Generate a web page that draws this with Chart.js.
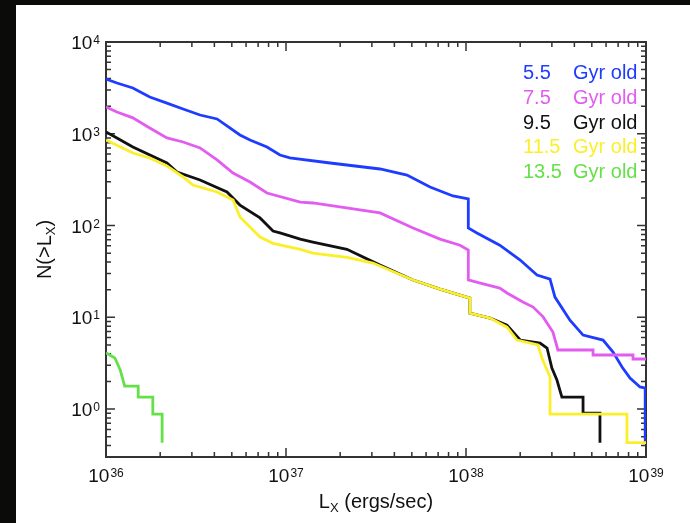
<!DOCTYPE html>
<html>
<head>
<meta charset="utf-8">
<script src="https://cdn.jsdelivr.net/npm/chart.js@4"></script>
<style>
  html, body { margin: 0; padding: 0; background: #0b0c09; }
  #panel { position: absolute; left: 16px; top: 5px; width: 674px; height: 518px; background: #fff; }
</style>
</head>
<body>
<div id="panel"><canvas id="xlfChart" width="674" height="518"></canvas></div>
<script>
// cumulative X-ray luminosity functions, N(>Lx) vs Lx, one per population age
const ages = ['5.5', '7.5', '9.5', '11.5', '13.5'];

const lum55 = [1.0e36, 1.15e36, 1.41e36, 1.75e36, 2.18e36, 2.68e36, 3.33e36, 4.14e36, 5.55e36, 6.31e36, 7.84e36, 9.26e36, 1.05e37, 1.76e37, 3.33e37, 4.70e37, 6.31e37, 8.47e37, 1.03e38, 1.03e38, 1.15e38, 1.54e38, 2.0e38, 2.48e38, 2.93e38, 3.12e38, 3.78e38, 4.47e38, 5.77e38, 6.56e38, 7.36e38, 8.15e38, 9.26e38, 9.9e38, 9.9e38];
const num55 = [3950, 3570, 3150, 2515, 2160, 1860, 1600, 1450, 970, 855, 718, 586, 545, 480, 413, 355, 263, 210, 195, 94, 83, 61, 42, 28.8, 26.1, 16.6, 9.3, 6.4, 5.65, 4.18, 2.87, 2.18, 1.74, 1.69, 0.43];

const lum75 = [1.0e36, 1.15e36, 1.41e36, 1.75e36, 2.18e36, 2.68e36, 3.33e36, 4.14e36, 5.08e36, 6.31e36, 7.84e36, 1.20e37, 1.41e37, 3.33e37, 5.08e37, 7.17e37, 9.26e37, 1.03e38, 1.03e38, 1.20e38, 1.54e38, 1.69e38, 2.07e38, 2.36e38, 2.68e38, 3.04e38, 3.24e38, 5.08e38, 5.08e38, 8.47e38, 8.47e38, 1.0e39];
const num75 = [1960, 1726, 1490, 1155, 900, 813, 700, 518, 373, 298, 226, 180, 176, 137, 94, 71, 61, 54, 25.5, 23.6, 20.8, 18.4, 14.7, 12.9, 10.1, 6.9, 4.4, 4.4, 3.88, 3.88, 3.51, 3.51];

const lum95 = [1.0e36, 1.15e36, 1.41e36, 2.18e36, 2.48e36, 3.33e36, 4.70e36, 5.55e36, 7.17e36, 8.47e36, 9.26e36, 1.20e37, 1.41e37, 2.18e37, 3.33e37, 5.08e37, 7.17e37, 1.05e38, 1.05e38, 1.36e38, 1.69e38, 2.0e38, 2.58e38, 2.82e38, 3.0e38, 3.2e38, 3.41e38, 4.47e38, 4.47e38, 5.55e38, 5.55e38];
const num95 = [1045, 900, 718, 480, 383, 313, 232, 167, 121, 87, 83, 71, 66, 55, 37, 25.5, 20.3, 16.2, 11.1, 9.8, 8.2, 5.65, 5.24, 4.62, 2.80, 2.07, 1.35, 1.35, 0.90, 0.90, 0.43];

const lum115 = [1.0e36, 1.41e36, 1.75e36, 2.18e36, 2.68e36, 3.04e36, 4.14e36, 5.08e36, 5.55e36, 7.17e36, 8.47e36, 1.20e37, 1.41e37, 2.18e37, 3.04e37, 5.08e37, 7.17e37, 1.05e38, 1.05e38, 1.36e38, 1.69e38, 1.92e38, 2.51e38, 2.64e38, 2.93e38, 2.93e38, 7.84e38, 7.84e38, 1.0e39];
const num115 = [855, 617, 545, 446, 338, 276, 232, 190, 124, 75, 64, 55, 50, 45, 39, 25.5, 20.3, 16.2, 11.1, 9.8, 7.8, 5.65, 5.0, 3.6, 2.23, 0.88, 0.88, 0.43, 0.43];

const lum135 = [1.0e36, 1.12e36, 1.20e36, 1.27e36, 1.51e36, 1.51e36, 1.82e36, 1.82e36, 2.05e36, 2.05e36];
const num135 = [4.1, 3.6, 2.66, 1.78, 1.78, 1.35, 1.35, 0.88, 0.88, 0.43];

const xMin = 1e36, xMax = 1e39;
const yMin = 0.3, yMax = 1e4;

const lineColors = ['#1e3cff', '#e25cf0', '#111111', '#fbef2c', '#66e04a'];
const axisColor = '#333333';
const fontFamily = '"Liberation Sans", Arial, Helvetica, sans-serif';

const series = [
  [lum55, num55], [lum75, num75], [lum95, num95], [lum115, num115], [lum135, num135]
];

const datasets = series.map(([lum, num], i) => ({
  label: ages[i] + ' Gyr old',
  data: lum.map((l, k) => ({ x: l, y: num[k] })),
  showLine: true,
  borderColor: lineColors[i],
  backgroundColor: lineColors[i],
  borderWidth: 2.8,
  pointRadius: 0,
  tension: 0,
  order: series.length - 1 - i // later ages drawn on top
}));

// tick positions at 1..9 x 10^n inside the range
function decadeTicks(lo, hi) {
  const out = [];
  for (let e = Math.floor(Math.log10(lo)); e <= Math.ceil(Math.log10(hi)); e++) {
    for (let m = 1; m <= 9; m++) {
      const v = m * Math.pow(10, e);
      if (v >= lo * 0.999 && v <= hi * 1.001) out.push({ v: v, major: m === 1, e: e });
    }
  }
  return out;
}

// "10" with a raised exponent; y is the vertical centre of the "10"
function drawPower(ctx, exp, x, y, align) {
  ctx.font = '19px ' + fontFamily;
  const w1 = ctx.measureText('10').width;
  ctx.font = '12px ' + fontFamily;
  const w2 = ctx.measureText(exp).width;
  const left = align === 'right' ? x - w1 - w2 - 1 : x - (w1 + w2 + 1) / 2;
  ctx.textAlign = 'left';
  ctx.textBaseline = 'alphabetic';
  ctx.font = '19px ' + fontFamily;
  ctx.fillText('10', left, y + 7);
  ctx.font = '12px ' + fontFamily;
  ctx.fillText(exp, left + w1 + 1, y + 2);
}

const framePlugin = {
  id: 'frame',
  beforeDatasetsDraw(chart) {
    const { ctx, chartArea: a, scales: { x, y } } = chart;
    ctx.save();
    ctx.strokeStyle = axisColor;
    ctx.lineWidth = 1.5;
    ctx.beginPath();
    decadeTicks(xMin, xMax).forEach(t => {
      const px = x.getPixelForValue(t.v);
      const len = t.major ? 9 : 5;
      ctx.moveTo(px, a.bottom); ctx.lineTo(px, a.bottom - len);
      ctx.moveTo(px, a.top); ctx.lineTo(px, a.top + len);
    });
    decadeTicks(yMin, yMax).forEach(t => {
      const py = y.getPixelForValue(t.v);
      const len = t.major ? 9 : 5;
      ctx.moveTo(a.left, py); ctx.lineTo(a.left + len, py);
      ctx.moveTo(a.right, py); ctx.lineTo(a.right - len, py);
    });
    ctx.stroke();
    ctx.lineWidth = 2;
    ctx.strokeRect(a.left, a.top, a.right - a.left, a.bottom - a.top);
    ctx.restore();
  },
  afterDraw(chart) {
    const { ctx, chartArea: a, scales: { x, y } } = chart;
    ctx.save();
    ctx.fillStyle = '#111';

    // axis numbers
    decadeTicks(xMin, xMax).filter(t => t.major).forEach(t => {
      drawPower(ctx, String(t.e), x.getPixelForValue(t.v), a.bottom + 18, 'center');
    });
    decadeTicks(yMin, yMax).filter(t => t.major).forEach(t => {
      drawPower(ctx, String(t.e), a.left - 6, y.getPixelForValue(t.v), 'right');
    });

    // x title: Lx (ergs/sec)
    const big = '20px ' + fontFamily, small = '13px ' + fontFamily;
    ctx.textBaseline = 'alphabetic';
    ctx.textAlign = 'left';
    ctx.font = big;
    const wL = ctx.measureText('L').width;
    const wRest = ctx.measureText(' (ergs/sec)').width;
    ctx.font = small;
    const wX = ctx.measureText('X').width;
    let tx = (a.left + a.right) / 2 - (wL + wX + wRest) / 2;
    const ty = a.bottom + 51;
    ctx.font = big; ctx.fillText('L', tx, ty);
    ctx.font = small; ctx.fillText('X', tx + wL, ty + 4);
    ctx.font = big; ctx.fillText(' (ergs/sec)', tx + wL + wX, ty);

    // y title: N(>Lx)
    ctx.save();
    ctx.translate(35, (a.top + a.bottom) / 2);
    ctx.rotate(-Math.PI / 2);
    ctx.font = big;
    const wN = ctx.measureText('N(>L').width;
    const wP = ctx.measureText(')').width;
    let sx = -(wN + wX + wP) / 2;
    ctx.fillText('N(>L', sx, 0);
    ctx.font = small; ctx.fillText('X', sx + wN, 4);
    ctx.font = big; ctx.fillText(')', sx + wN + wX, 0);
    ctx.restore();

    // legend
    ctx.font = big;
    ages.forEach((age, i) => {
      const by = a.top + 37 + i * 24.75;
      ctx.fillStyle = lineColors[i];
      ctx.fillText(age, a.right - 123, by);
      ctx.fillText('Gyr old', a.right - 73, by);
    });
    ctx.restore();
  }
};

new Chart(document.getElementById('xlfChart'), {
  type: 'scatter',
  data: { datasets: datasets },
  options: {
    responsive: false,
    animation: false,
    layout: { padding: { left: 90, top: 37, right: 44, bottom: 66 } },
    plugins: { legend: { display: false }, tooltip: { enabled: false } },
    scales: {
      x: {
        type: 'logarithmic', min: xMin, max: xMax,
        ticks: { display: false },
        grid: { display: false, drawTicks: false },
        border: { display: false }
      },
      y: {
        type: 'logarithmic', min: yMin, max: yMax,
        ticks: { display: false },
        grid: { display: false, drawTicks: false },
        border: { display: false }
      }
    }
  },
  plugins: [framePlugin]
});
</script>
</body>
</html>
